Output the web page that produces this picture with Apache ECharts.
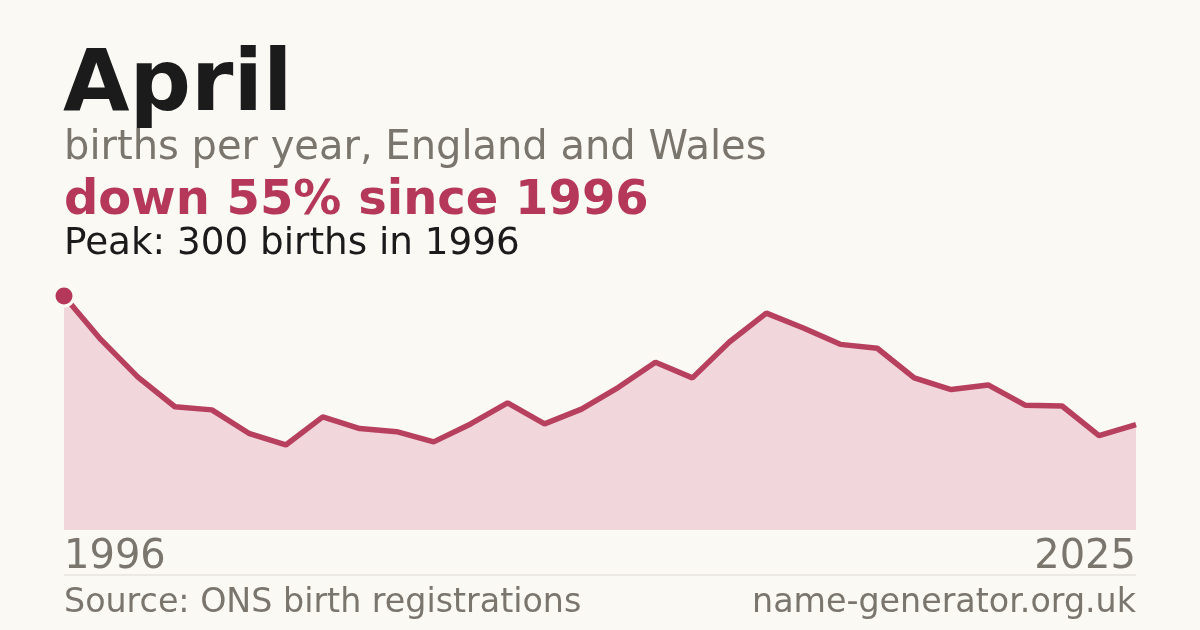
<!DOCTYPE html>
<html>
<head>
<meta charset="utf-8">
<script src="https://cdn.jsdelivr.net/npm/echarts@6/dist/echarts.min.js"></script>
<style>
  html, body { margin: 0; padding: 0; background: #faf9f4; }
  #chart { width: 1200px; height: 630px; }
</style>
</head>
<body>
<div id="chart"></div>
<script>
// births per year, April, England and Wales
var years = ['1996','1997','1998','1999','2000','2001','2002','2003','2004','2005',
             '2006','2007','2008','2009','2010','2011','2012','2013','2014','2015',
             '2016','2017','2018','2019','2020','2021','2022','2023','2024','2025'];
var births = [300, 244, 196, 158, 154, 124, 109, 145, 130, 126,
              113, 136, 163, 136, 155, 183, 215, 195, 241, 278,
              259, 238, 233, 195, 180, 186, 160, 159, 121, 135];

var ink = '#1b1b1b', grey = '#7a756d', red = '#b5385a';
var font = 'DejaVu Sans';

var myChart = echarts.init(document.getElementById('chart'));
var option = {
  backgroundColor: '#faf9f4',
  animation: false,
  title: [
    { text: 'April', left: 58, top: 40,
      textStyle: { fontFamily: font, fontSize: 86, fontWeight: 'bold', color: ink } },
    { text: 'births per year, England and Wales', left: 59, top: 124,
      textStyle: { fontFamily: font, fontSize: 40, fontWeight: 'normal', color: grey } },
    { text: 'down 55% since 1996', left: 59, top: 173,
      textStyle: { fontFamily: font, fontSize: 48, fontWeight: 'bold', color: red } },
    { text: 'Peak: 300 births in 1996', left: 59, top: 221,
      textStyle: { fontFamily: font, fontSize: 37.3, fontWeight: 'normal', color: ink } },
    { text: 'Source: ONS birth registrations', left: 59, top: 582,
      textStyle: { fontFamily: font, fontSize: 33.3, fontWeight: 'normal', color: grey } },
    { text: 'name-generator.org.uk', right: 59, top: 582,
      textStyle: { fontFamily: font, fontSize: 33.3, fontWeight: 'normal', color: grey } }
  ],
  grid: { left: 64, right: 64, top: 296, height: 234 },
  xAxis: {
    type: 'category',
    boundaryGap: false,
    data: years,
    axisLine: { show: false },
    axisTick: { show: false },
    axisLabel: {
      margin: 8,
      fontFamily: font,
      fontSize: 40,
      color: grey,
      alignMinLabel: 'left',
      alignMaxLabel: 'right',
      interval: function (i) { return i === 0 || i === years.length - 1; }
    }
  },
  yAxis: {
    type: 'value',
    min: 0,
    max: 300,
    show: false,
    splitLine: { show: false }
  },
  graphic: [
    { type: 'line', shape: { x1: 64, y1: 575, x2: 1136, y2: 575 },
      style: { stroke: '#ddd8cf', lineWidth: 1 } }
  ],
  series: [
    {
      type: 'line',
      data: births,
      clip: false,
      lineStyle: { color: '#b8405f', width: 5.5 },
      areaStyle: { color: '#f1d6db', opacity: 1 },
      symbol: 'circle',
      symbolSize: function (v, p) { return p.dataIndex === 0 ? 20 : 0; },
      showSymbol: true,
      itemStyle: { color: red, borderColor: '#faf9f4', borderWidth: 3 },
      z: 3
    }
  ]
};
myChart.setOption(option);
</script>
</body>
</html>
